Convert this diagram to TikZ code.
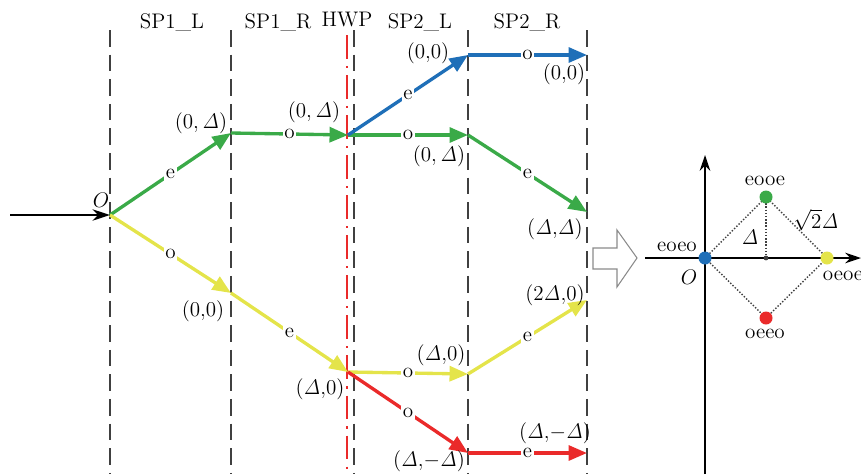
\documentclass[tikz,border=0pt]{standalone}
\usepackage{amsmath,amssymb}
\usepackage{tikz}
\usetikzlibrary{arrows.meta,positioning,calc}
\definecolor{raygreen}{HTML}{3AAA48}
\definecolor{rayblue}{HTML}{1F6FB8}
\definecolor{rayyellow}{HTML}{E4E44A}
\definecolor{rayred}{HTML}{EA2A2A}
\definecolor{plategray}{HTML}{404040}
\definecolor{hollowgray}{HTML}{8A8A8A}
\newcommand{\dlt}{\mathit{\Delta}}
\tikzset{
  every node/.style={font=\fontsize{12}{14}\selectfont},
  plate/.style={draw=plategray, line width=1.3pt, dash pattern=on 9.5pt off 4.5pt},
  hwpline/.style={draw=rayred, line width=1.4pt, dash pattern=on 13.6pt off 4pt on 1.2pt off 4pt},
  ray/.style={line width=1.9pt, -{Triangle[length=10.5pt,width=8.5pt]}},
  greenray/.style={ray, draw=raygreen},
  blueray/.style={ray, draw=rayblue},
  yellowray/.style={ray, draw=rayyellow},
  redray/.style={ray, draw=rayred},
  pol/.style={fill=white, inner sep=1pt, midway},
  lbl/.style={inner sep=1pt},
  axis/.style={line width=1.2pt, -{Stealth[length=9pt,width=6pt]}},
  guide/.style={draw=plategray, line width=0.8pt, densely dotted},
  spot/.style={circle, inner sep=0pt, minimum size=0.26cm}
}

\begin{document}
\begin{tikzpicture}[x=0.02cm, y=-0.02cm]
  \useasboundingbox (0,0) rectangle (861,474);
  % plates
  \coordinate (p1t) at (110,30);  \coordinate (p1b) at (110,474);
  \coordinate (p2t) at (231,30);  \coordinate (p2b) at (231,474);
  \coordinate (hwt) at (347,35);  \coordinate (hwb) at (347,474);
  \coordinate (p3t) at (354,30);  \coordinate (p3b) at (354,474);
  \coordinate (p4t) at (468,30);  \coordinate (p4b) at (468,474);
  \coordinate (p5t) at (587,30);  \coordinate (p5b) at (587,474);
  \foreach \p in {p1,p2,p3,p4,p5}
    \draw[plate] (\p t) -- (\p b);
  \draw[hwpline] (hwt) -- (hwb);
  \node (sp1l) at (172,23) {SP1\_L};
  \node (sp1r) at (278,23) {SP1\_R};
  \node (hwp) at (347,20) {HWP};
  \node (sp2l) at (420,23) {SP2\_L};
  \node (sp2r) at (527,23) {SP2\_R};

  % ray points
  \coordinate (in) at (10,215);
  \coordinate (O) at (110,215);
  \coordinate (g1) at (231,133);
  \coordinate (h1) at (348,135);
  \coordinate (g2) at (468,135);
  \coordinate (g3) at (587,212);
  \coordinate (b1) at (468,55);
  \coordinate (b2) at (587,55);
  \coordinate (y1) at (231,293);
  \coordinate (h2) at (348,372);
  \coordinate (y2) at (468,374);
  \coordinate (y3) at (587,300);
  \coordinate (r1) at (468,453);
  \coordinate (r2) at (587,453);

  \draw[line width=1.1pt, -{Stealth[length=10pt,width=6.5pt]}] (in) -- (O);
  \draw[greenray] (O) -- node[pol] {e} (g1);
  \draw[greenray] (g1) -- node[pol] {o} (h1);
  \draw[greenray] (h1) -- node[pol] {o} (g2);
  \draw[greenray] (g2) -- node[pol] {e} (g3);
  \draw[blueray] (h1) -- node[pol] {e} (b1);
  \draw[blueray] (b1) -- node[pol] {o} (b2);
  \draw[yellowray] (O) -- node[pol] {o} (y1);
  \draw[yellowray] (y1) -- node[pol] {e} (h2);
  \draw[yellowray] (h2) -- node[pol] {o} (y2);
  \draw[yellowray] (y2) -- node[pol] {e} (y3);
  \draw[redray] (h2) -- node[pol] {o} (r1);
  \draw[redray] (r1) -- node[pol] {e} (r2);

  % coordinates of the rays
  \node[lbl] (lO) at (101,200) {$O$};
  \node[lbl] (lg1) at (201,123) {$(0, \dlt)$};
  \node[lbl] (lh1) at (314,112) {$(0, \dlt)$};
  \node[lbl] (lb1) at (428,53) {$(0{,}0)$};
  \node[lbl] (lb2) at (564,74) {$(0{,}0)$};
  \node[lbl] (lg2) at (439,156) {$(0, \dlt)$};
  \node[lbl] (lg3) at (555,229) {$(\dlt{,}\dlt)$};
  \node[lbl] (ly1) at (203,311) {$(0{,}0)$};
  \node[lbl] (lh2) at (320,389) {$(\dlt{,}0)$};
  \node[lbl] (ly2) at (441,355) {$(\dlt{,}0)$};
  \node[lbl] (ly3) at (555,295) {$(2\dlt{,}0)$};
  \node[lbl] (lr1) at (429,461) {$(\dlt{,}{-}\dlt)$};
  \node[lbl] (lr2) at (555,433) {$(\dlt{,}{-}\dlt)$};

  % hollow arrow
  \draw[hollowgray, line width=0.6pt] (593,248) -- (617,248) -- (617,230) -- (637,258)
    -- (617,287) -- (617,269) -- (593,269) -- cycle;

  % output plane
  \coordinate (xa) at (645,258);  \coordinate (xb) at (861,258);
  \coordinate (ya) at (705,474);  \coordinate (yb) at (705,155);
  \coordinate (mid) at (766,258);
  \draw[guide] (705,258) -- (766,197) -- (827,258) -- (766,318) -- cycle;
  \draw[guide] (766,197) -- (mid);
  \draw[axis] (xa) -- (xb);
  \draw[axis] (ya) -- (yb);
  \fill[plategray] (mid) circle (2.4);
  \node[spot, fill=rayblue] (eoeo) at (705,258) {};
  \node[spot, fill=raygreen] (eooe) at (766,197) {};
  \node[spot, fill=rayyellow] (oeoe) at (827,258) {};
  \node[spot, fill=rayred] (oeeo) at (766,318) {};
  \node[lbl] (leooe) at (765,181) {eooe};
  \node[lbl] (leoeo) at (677,247) {eoeo};
  \node[lbl] (lO2) at (689,277) {$O$};
  \node[lbl] (loeoe) at (843,276) {oeoe};
  \node[lbl] (loeeo) at (765,334) {oeeo};
  \node[lbl] (ldlt) at (750,237) {$\dlt$};
  \node[lbl] (lside) at (816,220) {$\sqrt{2}\dlt$};
\end{tikzpicture}
\end{document}
